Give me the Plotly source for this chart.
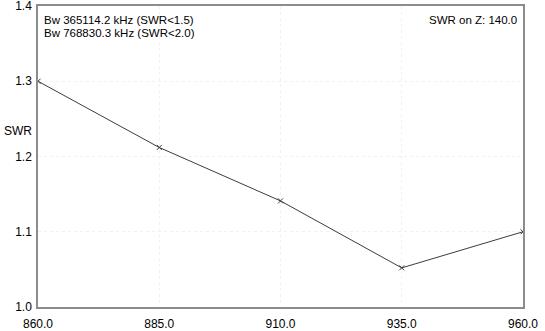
import plotly.graph_objects as go

freq = [860.0, 885.0, 910.0, 935.0, 960.0]
swr = [1.300, 1.212, 1.141, 1.052, 1.100]
x_ticks = [860.0, 885.0, 910.0, 935.0, 960.0]
y_ticks = [1.0, 1.1, 1.2, 1.3, 1.4]
bw_lines = ["Bw 365114.2 kHz (SWR<1.5)", "Bw 768830.3 kHz (SWR<2.0)"]
z_text = "SWR on Z: 140.0"

FONT = "Liberation Sans, Arial, sans-serif"

L, R, T, B = 38, 22, 6, 24
W, H = 545, 331
plot_w = W - L - R
plot_h = H - T - B

fig = go.Figure()
fig.add_trace(go.Scatter(
    x=freq, y=swr, mode="lines+markers",
    line=dict(color="#3c3c3c", width=1),
    marker=dict(symbol="x-thin", size=5, line=dict(color="#3c3c3c", width=1), color="#3c3c3c"),
    showlegend=False, hoverinfo="skip",
))

fig.update_layout(
    width=W, height=H,
    margin=dict(l=L, r=R, t=T, b=B, autoexpand=False),
    paper_bgcolor="white", plot_bgcolor="white",
    font=dict(family=FONT, size=12, color="black"),
    xaxis=dict(
        range=[860, 960], tickvals=x_ticks, ticktext=[f"{v:.1f}" for v in x_ticks],
        showgrid=True, gridcolor="#f2f2f2", griddash="dot", gridwidth=1,
        showline=True, linecolor="#8c8c8c", linewidth=1.5, mirror=True,
        zeroline=False, ticks="", ticklabelstandoff=5, automargin=False,
        ticklabeloverflow="allow",
        tickfont=dict(family=FONT, size=12, color="black"),
    ),
    yaxis=dict(
        range=[1.0, 1.4], tickvals=y_ticks, ticktext=[f"{v:.1f}" for v in y_ticks],
        showgrid=True, gridcolor="#f2f2f2", griddash="dot", gridwidth=1,
        showline=True, linecolor="#8c8c8c", linewidth=1.5, mirror=True,
        zeroline=False, ticks="", ticklabelstandoff=2, automargin=False,
        ticklabeloverflow="allow",
        tickfont=dict(family=FONT, size=12, color="black"),
    ),
    annotations=[
        dict(x=4 / plot_w, y=1 - (19.5 - T) / plot_h, xref="paper", yref="paper",
             xanchor="left", yanchor="middle",
             text=bw_lines[0], showarrow=False, font=dict(family=FONT, size=11.5, color="black")),
        dict(x=4 / plot_w, y=1 - (33 - T) / plot_h, xref="paper", yref="paper",
             xanchor="left", yanchor="middle",
             text=bw_lines[1], showarrow=False, font=dict(family=FONT, size=11.5, color="black")),
        dict(x=1 - 4 / plot_w, y=1 - (19.5 - T) / plot_h, xref="paper", yref="paper",
             xanchor="right", yanchor="middle",
             text=z_text, showarrow=False, font=dict(family=FONT, size=11.5, color="black")),
        dict(x=(2 - L) / plot_w, y=(H - B - 131) / plot_h, xref="paper", yref="paper",
             xanchor="left", yanchor="middle",
             text="SWR", showarrow=False, font=dict(family=FONT, size=12, color="black")),
    ],
)

fig.write_html("out.html")
